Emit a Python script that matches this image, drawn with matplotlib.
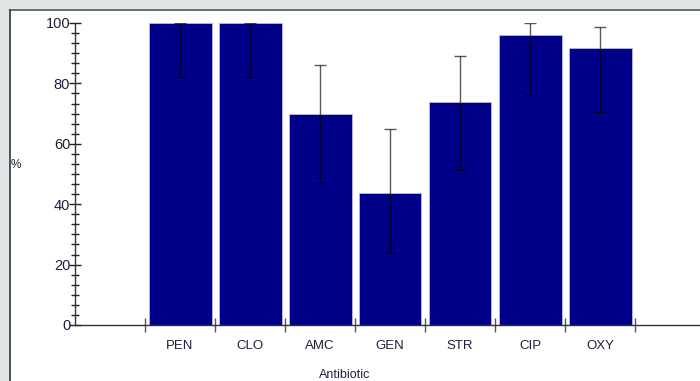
import matplotlib

matplotlib.use("Agg")
import matplotlib.pyplot as plt  # noqa: E402
from matplotlib.patches import Rectangle  # noqa: E402
from matplotlib.lines import Line2D  # noqa: E402
from matplotlib.ticker import MultipleLocator, FixedLocator  # noqa: E402

# Data
antibiotics = ["PEN", "CLO", "AMC", "GEN", "STR", "CIP", "OXY"]
percent = [100, 100, 70, 43.7, 74, 96, 91.7]
err_low = [82, 82, 47, 24, 51.3, 76, 70.5]
err_high = [100, 100, 86, 65, 89, 100, 98.7]

plt.rcParams["font.family"] = ["Liberation Sans", "DejaVu Sans"]
TXT = "#20203a"

W, H = 700, 381
fig = plt.figure(figsize=(W / 100, H / 100), dpi=100)
ax = fig.add_axes([75 / W, 1 - 325 / H, 1 - 75 / W, (325 - 23) / H])

xs = [i + 1.5 for i in range(len(antibiotics))]
lo = [p - l for p, l in zip(percent, err_low)]
hi = [h - p for p, h in zip(percent, err_high)]
ax.bar(xs, percent, width=0.9, color="#000088", edgecolor="#b8b8e8", linewidth=0.6, zorder=2)
ax.errorbar(xs, percent, yerr=[lo, hi], fmt="none", ecolor="black", elinewidth=1.0,
            capsize=4, capthick=1.0, alpha=0.65, zorder=3)

ax.set_xlim(0, (W - 75) / 70)
ax.set_ylim(0, 100)
ax.margins(0)

for s in ["top", "right"]:
    ax.spines[s].set_visible(False)
for s in ["left", "bottom"]:
    ax.spines[s].set_color("#333333")
    ax.spines[s].set_linewidth(1.0)

# y ticks
ax.yaxis.set_major_locator(MultipleLocator(20))
ax.yaxis.set_minor_locator(MultipleLocator(20 / 6))
ax.tick_params(axis="y", which="major", direction="inout", length=9, width=1, colors="#222222",
               labelcolor=TXT, labelsize=10.5, pad=-1)
ax.tick_params(axis="y", which="minor", direction="inout", length=6, width=1, colors="#222222")

# x ticks: boundaries as marks, labels at centres
ax.xaxis.set_major_locator(FixedLocator([i + 1 for i in range(len(antibiotics) + 1)]))
ax.xaxis.set_major_formatter(plt.NullFormatter())
ax.xaxis.set_minor_locator(FixedLocator(xs))
ax.set_xticklabels(antibiotics, minor=True)
ax.tick_params(axis="x", which="major", direction="inout", length=10, width=1, colors="#555555")
ax.tick_params(axis="x", which="minor", length=0, labelcolor=TXT, labelsize=9.5, pad=11)

fig.text(16 / W, 1 - 165 / H, "%", ha="center", va="center", fontsize=8.5, color=TXT)
fig.text(345 / W, 1 - 375 / H, "Antibiotic", ha="center", va="center", fontsize=9, color=TXT)

# grey window frame at top and left
fig.add_artist(Rectangle((0, 1 - 9 / H), 1, 9 / H, transform=fig.transFigure,
                         facecolor="#e2e5e6", edgecolor="none"))
fig.add_artist(Rectangle((0, 0), 9 / W, 1, transform=fig.transFigure,
                         facecolor="#e2e5e6", edgecolor="none"))
fig.add_artist(Line2D([9.5 / W, 1], [1 - 9.5 / H, 1 - 9.5 / H], transform=fig.transFigure,
                      color="#555555", linewidth=1.2))
fig.add_artist(Line2D([9.5 / W, 9.5 / W], [0, 1 - 9.5 / H], transform=fig.transFigure,
                      color="#333333", linewidth=1.2))

fig.savefig("out.png", dpi=100)
